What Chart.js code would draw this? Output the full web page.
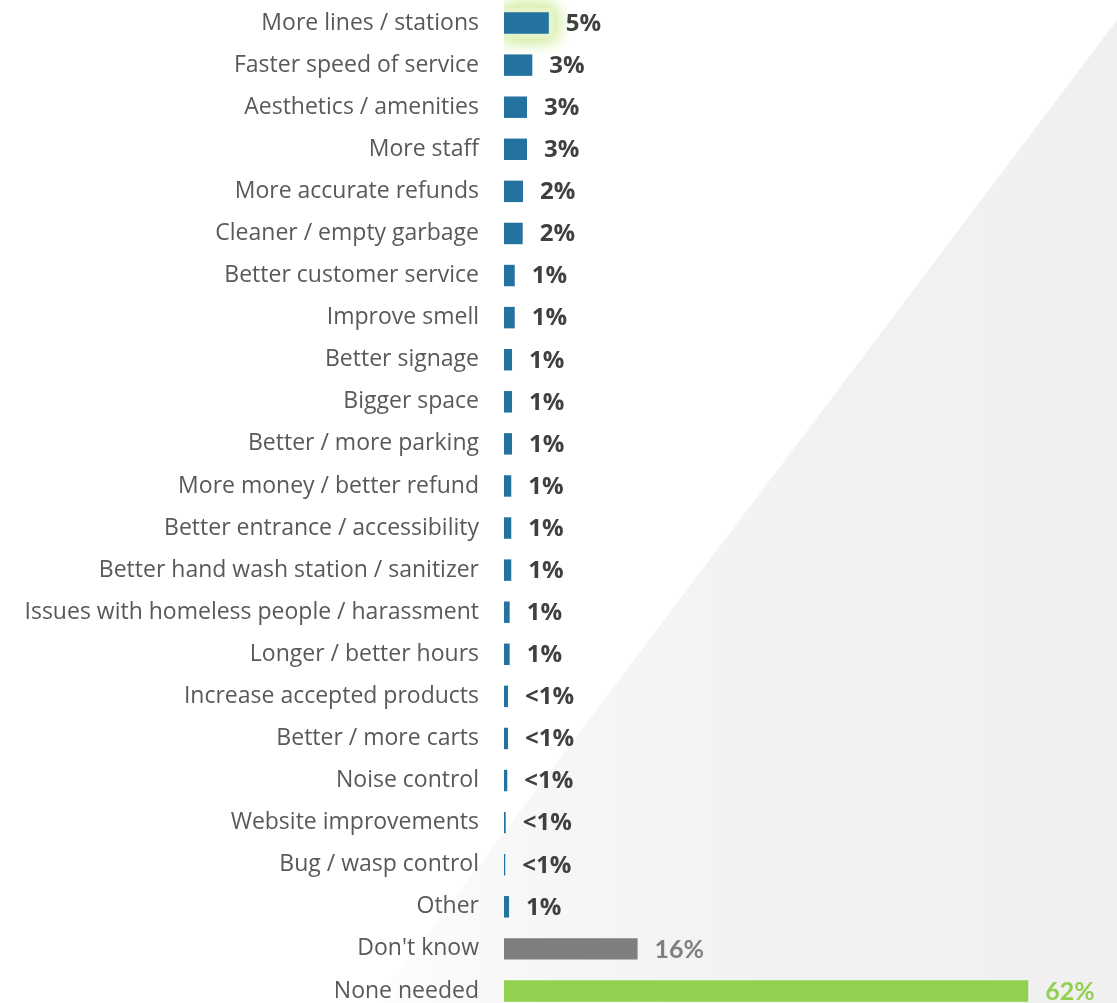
<!DOCTYPE html>
<html>
<head>
<meta charset="utf-8">
<script src="https://cdn.jsdelivr.net/npm/chart.js@4/dist/chart.umd.min.js"></script>
<style>
  html, body { margin: 0; padding: 0; background: #fff; }
  body { width: 1117px; height: 1003px; overflow: hidden; }
  #wrap { position: relative; width: 1117px; height: 1012px; }
</style>
</head>
<body>
<div id="wrap"><canvas id="chartSuggestions"></canvas></div>
<script>
const categories = [
    'More lines / stations', 'Faster speed of service', 'Aesthetics / amenities', 'More staff',
    'More accurate refunds', 'Cleaner / empty garbage', 'Better customer service', 'Improve smell',
    'Better signage', 'Bigger space', 'Better / more parking', 'More money / better refund',
    'Better entrance / accessibility', 'Better hand wash station / sanitizer',
    'Issues with homeless people / harassment', 'Longer / better hours', 'Increase accepted products',
    'Better / more carts', 'Noise control', 'Website improvements', 'Bug / wasp control', 'Other',
    "Don't know", 'None needed'
];
const percentages = [
    5.3, 3.35, 2.72, 2.72, 2.25, 2.21, 1.27, 1.27,
    0.95, 0.95, 0.95, 0.86, 0.86, 0.86, 0.67, 0.67,
    0.48, 0.48, 0.39, 0.2, 0.15, 0.6, 15.8, 62
];

const BLUE = '#23729F', GREY = '#7F7F7F', GREEN = '#92D050';
const barColor = c => c === "Don't know" ? GREY : (c === 'None needed' ? GREEN : BLUE);
const labelColor = c => c === "Don't know" ? GREY : (c === 'None needed' ? GREEN : '#404040');
const fmtPct = v => v < 0.5 ? '<1%' : Math.round(v) + '%';

// pale diagonal panel behind the plot
const backdrop = {
    id: 'backdrop',
    beforeDraw(chart) {
        const { ctx, width, height } = chart;
        const g = ctx.createLinearGradient(width, 0, width * 0.34, 0);
        g.addColorStop(0, '#f0f0f0');
        g.addColorStop(0.55, '#f3f3f3');
        g.addColorStop(0.8, '#f7f7f7');
        g.addColorStop(1, '#fdfdfd');
        ctx.save();
        ctx.fillStyle = g;
        ctx.beginPath();
        ctx.moveTo(width, 20);
        ctx.lineTo(width, height);
        ctx.lineTo(width * 0.33, height);
        ctx.closePath();
        ctx.fill();
        ctx.restore();
    }
};

// soft green halo around the top bar
const halo = {
    id: 'halo',
    beforeDatasetsDraw(chart) {
        const bar = chart.getDatasetMeta(0).data[0];
        if (!bar) return;
        const { ctx, chartArea } = chart;
        const h = bar.height;
        ctx.save();
        ctx.beginPath();
        ctx.rect(chartArea.left, 0, chartArea.right - chartArea.left, chart.height);
        ctx.clip();
        ctx.shadowColor = 'rgba(205, 235, 150, 1)';
        ctx.shadowBlur = 18;
        ctx.fillStyle = 'rgba(228, 244, 200, 1)';
        for (let k = 0; k < 2; k++) {
            ctx.fillRect(bar.base, bar.y - h / 2 - 5, bar.x - bar.base + 6, h + 10);
        }
        ctx.restore();
    }
};

const valueLabels = {
    id: 'valueLabels',
    afterDatasetsDraw(chart) {
        const { ctx } = chart;
        const meta = chart.getDatasetMeta(0);
        ctx.save();
        ctx.textBaseline = 'middle';
        ctx.textAlign = 'left';
        meta.data.forEach((bar, i) => {
            const cat = categories[i];
            const big = cat === "Don't know" || cat === 'None needed';
            ctx.font = big ? 'bold 25px Lato' : 'bold 24px "Open Sans"';
            ctx.fillStyle = labelColor(cat);
            ctx.fillText(fmtPct(percentages[i]), bar.x + 17, bar.y + 1);
        });
        ctx.restore();
    }
};

new Chart(document.getElementById('chartSuggestions').getContext('2d'), {
    type: 'bar',
    data: {
        labels: categories,
        datasets: [{
            data: percentages,
            backgroundColor: categories.map(barColor),
            borderWidth: 0,
            barPercentage: 0.51,
            categoryPercentage: 1
        }]
    },
    options: {
        indexAxis: 'y',
        responsive: true,
        maintainAspectRatio: false,
        animation: false,
        layout: { padding: { top: 2, right: 0, bottom: 0, left: 0 } },
        plugins: { legend: { display: false }, tooltip: { enabled: false } },
        scales: {
            x: { display: false, min: 0, max: 72.5 },
            y: {
                grid: { display: false, drawTicks: false },
                border: { display: false },
                ticks: { padding: 25, color: '#595959', font: { family: 'Open Sans', size: 23 } },
                afterFit(scale) {
                    scale.width = 504;
                    scale.paddingTop = 0;
                    scale.paddingBottom = 0;
                }
            }
        }
    },
    plugins: [backdrop, halo, valueLabels]
});
</script>
</body>
</html>
